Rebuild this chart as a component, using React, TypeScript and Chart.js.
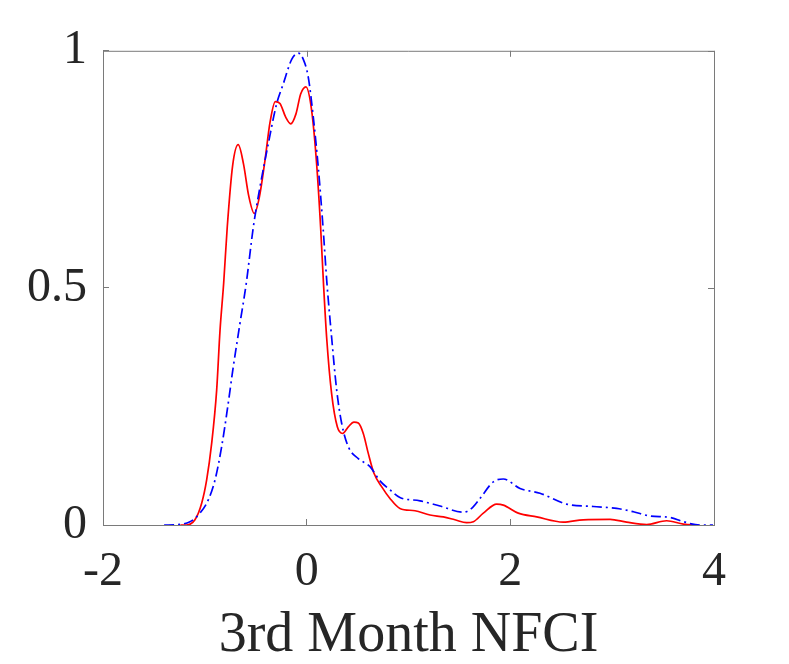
import { useEffect, useRef } from "react";
import { Chart, registerables } from "chart.js";

Chart.register(...registerables);

// red solid density
const redX = [-1.24, -1.18, -1.097, -1.031, -0.982, -0.933, -0.884, -0.851, -0.815, -0.78, -0.727, -0.672, -0.62, -0.57, -0.514, -0.465, -0.41, -0.36, -0.308, -0.262, -0.206, -0.157, -0.105, -0.059, -0.007, 0.049, 0.098, 0.137, 0.165, 0.196, 0.245, 0.301, 0.353, 0.409, 0.464, 0.507, 0.556, 0.605, 0.661, 0.736, 0.818, 0.916, 1.064, 1.211, 1.342, 1.456, 1.571, 1.637, 1.735, 1.866, 1.931, 2.078, 2.259, 2.52, 2.716, 2.98, 3.142, 3.339, 3.535, 3.699, 3.846];
const redY = [0, 0, 0.011, 0.046, 0.095, 0.172, 0.284, 0.41, 0.51, 0.628, 0.758, 0.802, 0.761, 0.695, 0.657, 0.691, 0.768, 0.849, 0.893, 0.889, 0.86, 0.846, 0.867, 0.909, 0.924, 0.874, 0.761, 0.628, 0.51, 0.396, 0.277, 0.207, 0.193, 0.207, 0.217, 0.215, 0.193, 0.151, 0.109, 0.081, 0.056, 0.035, 0.03, 0.021, 0.017, 0.011, 0.005, 0.007, 0.025, 0.044, 0.042, 0.025, 0.017, 0.006, 0.011, 0.012, 0.006, 0.001, 0.009, 0.002, 0];

// blue dash-dot density
const blueX = [-1.4, -1.36, -1.146, -1.048, -0.966, -0.9, -0.835, -0.78, -0.721, -0.655, -0.593, -0.524, -0.459, -0.377, -0.295, -0.23, -0.147, -0.082, -0.033, 0.016, 0.065, 0.114, 0.163, 0.199, 0.245, 0.295, 0.344, 0.409, 0.507, 0.622, 0.72, 0.818, 0.916, 1.113, 1.309, 1.538, 1.62, 1.702, 1.833, 1.931, 2.095, 2.291, 2.553, 2.815, 3.044, 3.208, 3.372, 3.568, 3.699, 3.862, 3.99];
const blueY = [0, 0, 0.007, 0.025, 0.053, 0.095, 0.165, 0.242, 0.333, 0.425, 0.51, 0.628, 0.712, 0.804, 0.888, 0.93, 0.982, 0.995, 0.982, 0.944, 0.86, 0.754, 0.621, 0.51, 0.396, 0.284, 0.214, 0.165, 0.14, 0.123, 0.093, 0.074, 0.058, 0.051, 0.04, 0.027, 0.035, 0.056, 0.091, 0.097, 0.077, 0.067, 0.044, 0.039, 0.035, 0.028, 0.019, 0.016, 0.007, 0, 0];

const xTicks = [-2, 0, 2, 4];
const yTicks = [0, 0.5, 1];
const xTitle = "3rd Month NFCI";

const axisColor = "#7a7a7a";
const textColor = "#262626";
const font = "'Liberation Serif', 'Times New Roman', serif";

// box on top/right with inward ticks, like matlab
const boxPlugin = {
  id: "box",
  afterDraw(chart: any) {
    const { ctx, chartArea: a, scales } = chart;
    ctx.save();
    ctx.strokeStyle = axisColor;
    ctx.lineWidth = 1;
    ctx.beginPath();
    ctx.moveTo(a.left, a.top + 0.5);
    ctx.lineTo(a.right + 0.5, a.top + 0.5);
    ctx.lineTo(a.right + 0.5, a.bottom);
    xTicks.forEach((v) => {
      const px = Math.round(scales.x.getPixelForValue(v)) + 0.5;
      ctx.moveTo(px, a.top);
      ctx.lineTo(px, a.top + 6);
    });
    yTicks.forEach((v) => {
      const py = Math.round(scales.y.getPixelForValue(v)) + 0.5;
      ctx.moveTo(a.right, py);
      ctx.lineTo(a.right - 6, py);
    });
    ctx.stroke();
    ctx.restore();
  },
};

export default function App() {
  const ref = useRef<HTMLCanvasElement>(null);

  useEffect(() => {
    if (!ref.current) return;
    const chart = new Chart(ref.current, {
      type: "line",
      data: {
        datasets: [
          {
            data: blueX.map((x, i) => ({ x, y: blueY[i] })),
            borderColor: "#0000ff",
            borderWidth: 1.7,
            borderDash: [10, 4, 2, 4],
            pointRadius: 0,
            cubicInterpolationMode: "monotone",
          },
          {
            data: redX.map((x, i) => ({ x, y: redY[i] })),
            borderColor: "#ff0000",
            borderWidth: 1.7,
            pointRadius: 0,
            cubicInterpolationMode: "monotone",
          },
        ],
      },
      options: {
        animation: false,
        responsive: false,
        layout: { padding: { top: 50, right: 75, left: 0, bottom: 0 } },
        plugins: { legend: { display: false }, tooltip: { enabled: false } },
        scales: {
          x: {
            type: "linear",
            min: -2,
            max: 4,
            afterBuildTicks: (s: any) => { s.ticks = xTicks.map((value) => ({ value })); },
            afterFit: (s: any) => { s.height = 139; },
            grid: { drawOnChartArea: false, color: axisColor, tickLength: -6 },
            border: { color: axisColor },
            ticks: { color: textColor, font: { family: font, size: 48 }, padding: 25, maxRotation: 0, callback: (v: any) => String(v) },
            title: { display: true, text: xTitle, color: textColor, font: { family: font, size: 56, lineHeight: 1 }, padding: { top: 0, bottom: 0 } },
          },
          y: {
            type: "linear",
            min: 0,
            max: 1,
            afterBuildTicks: (s: any) => { s.ticks = yTicks.map((value) => ({ value })); },
            afterFit: (s: any) => { s.width = 103; },
            grid: { drawOnChartArea: false, color: axisColor, tickLength: -6 },
            border: { color: axisColor },
            ticks: { color: textColor, font: { family: font, size: 48 }, padding: 22, callback: (v: any) => String(v) },
          },
        },
      },
      plugins: [boxPlugin],
    });
    return () => chart.destroy();
  }, []);

  return (
    <div style={{ position: "absolute", left: 0, top: 0, width: 789, height: 664, background: "#fff" }}>
      <canvas ref={ref} width={789} height={664} />
    </div>
  );
}
